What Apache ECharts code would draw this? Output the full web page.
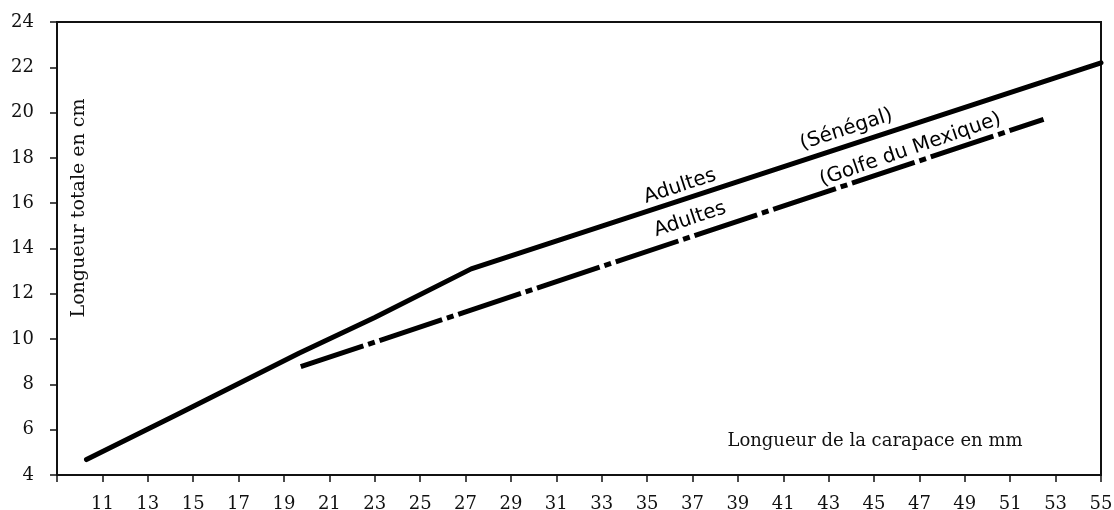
<!DOCTYPE html>
<html>
<head>
<meta charset="utf-8">
<script src="https://cdn.jsdelivr.net/npm/echarts@6/dist/echarts.min.js"></script>
<style>
  html, body { margin: 0; padding: 0; background: #fff; }
  #chart { width: 1114px; height: 510px; }
</style>
</head>
<body>
<div id="chart"></div>
<script>
// Longueur totale (cm) en fonction de la longueur de la carapace (mm)
const senegalX = [10.3, 14.25, 19.66, 23.0, 27.25, 55.0];
const senegalY = [4.68, 6.65, 9.38, 10.95, 13.1, 22.2];

const golfeX = [19.74, 52.47];
const golfeY = [8.78, 19.7];

// Annotations placed along the curves: [x, y, text, angle]
const notes = [
  [36.45, 16.74, 'Adultes', 18],
  [43.78, 19.25, '(Sénégal)', 18],
  [36.89, 15.28, 'Adultes', 18.5],
  [46.6, 18.37, '(Golfe du Mexique)', 19]
];

const xTitle = 'Longueur de la carapace en mm';
const yTitle = 'Longueur totale en cm';

const zip = (xs, ys) => xs.map((x, i) => [x, ys[i]]);
const ink = '#111';
const serif = 'DejaVu Serif';

const chart = echarts.init(document.getElementById('chart'));
chart.setOption({
  animation: false,
  backgroundColor: '#fff',
  grid: {
    left: 57, right: 13, top: 22, bottom: 35,
    containLabel: false, outerBoundsMode: 'none',
    show: true, borderColor: ink, borderWidth: 2
  },
  xAxis: {
    type: 'value', min: 9, max: 55, interval: 2,
    axisLine: { lineStyle: { color: ink, width: 2 } },
    axisTick: { length: 7, lineStyle: { color: ink, width: 1.5 } },
    axisLabel: {
      color: ink, fontFamily: serif, fontSize: 18, margin: 20,
      formatter: v => (v === 9 ? '' : String(v))
    },
    splitLine: { show: false }
  },
  yAxis: {
    type: 'value', min: 4, max: 24, interval: 2,
    axisLine: { lineStyle: { color: ink, width: 2 } },
    axisTick: { length: 7, lineStyle: { color: ink, width: 1.5 } },
    axisLabel: { color: ink, fontFamily: serif, fontSize: 18, margin: 23 },
    splitLine: { show: false }
  },
  series: [
    {
      type: 'line', data: zip(senegalX, senegalY), symbol: 'none',
      lineStyle: { color: '#000', width: 5, cap: 'round', join: 'round' }
    },
    {
      type: 'line', data: zip(golfeX, golfeY), symbol: 'none',
      lineStyle: { color: '#000', width: 5, type: [66, 5, 7, 5], cap: 'butt' }
    },
    {
      type: 'scatter', symbolSize: 0, silent: true,
      itemStyle: { opacity: 1 },
      data: notes.map(n => ({ value: [n[0], n[1]], name: n[2],
        label: { rotate: n[3] } })),
      label: {
        show: true, position: 'inside', formatter: p => p.name,
        color: '#000', fontFamily: 'DejaVu Sans', fontSize: 20
      }
    }
  ],
  graphic: [
    {
      type: 'text', x: 875, y: 441,
      style: { text: xTitle, fill: ink, font: '18px "DejaVu Serif"',
        textAlign: 'center', textVerticalAlign: 'middle' }
    },
    {
      type: 'text', x: 79, y: 208, rotation: Math.PI / 2,
      style: { text: yTitle, fill: ink, font: '19px "DejaVu Serif"',
        textAlign: 'center', textVerticalAlign: 'middle' }
    }
  ]
});
</script>
</body>
</html>
